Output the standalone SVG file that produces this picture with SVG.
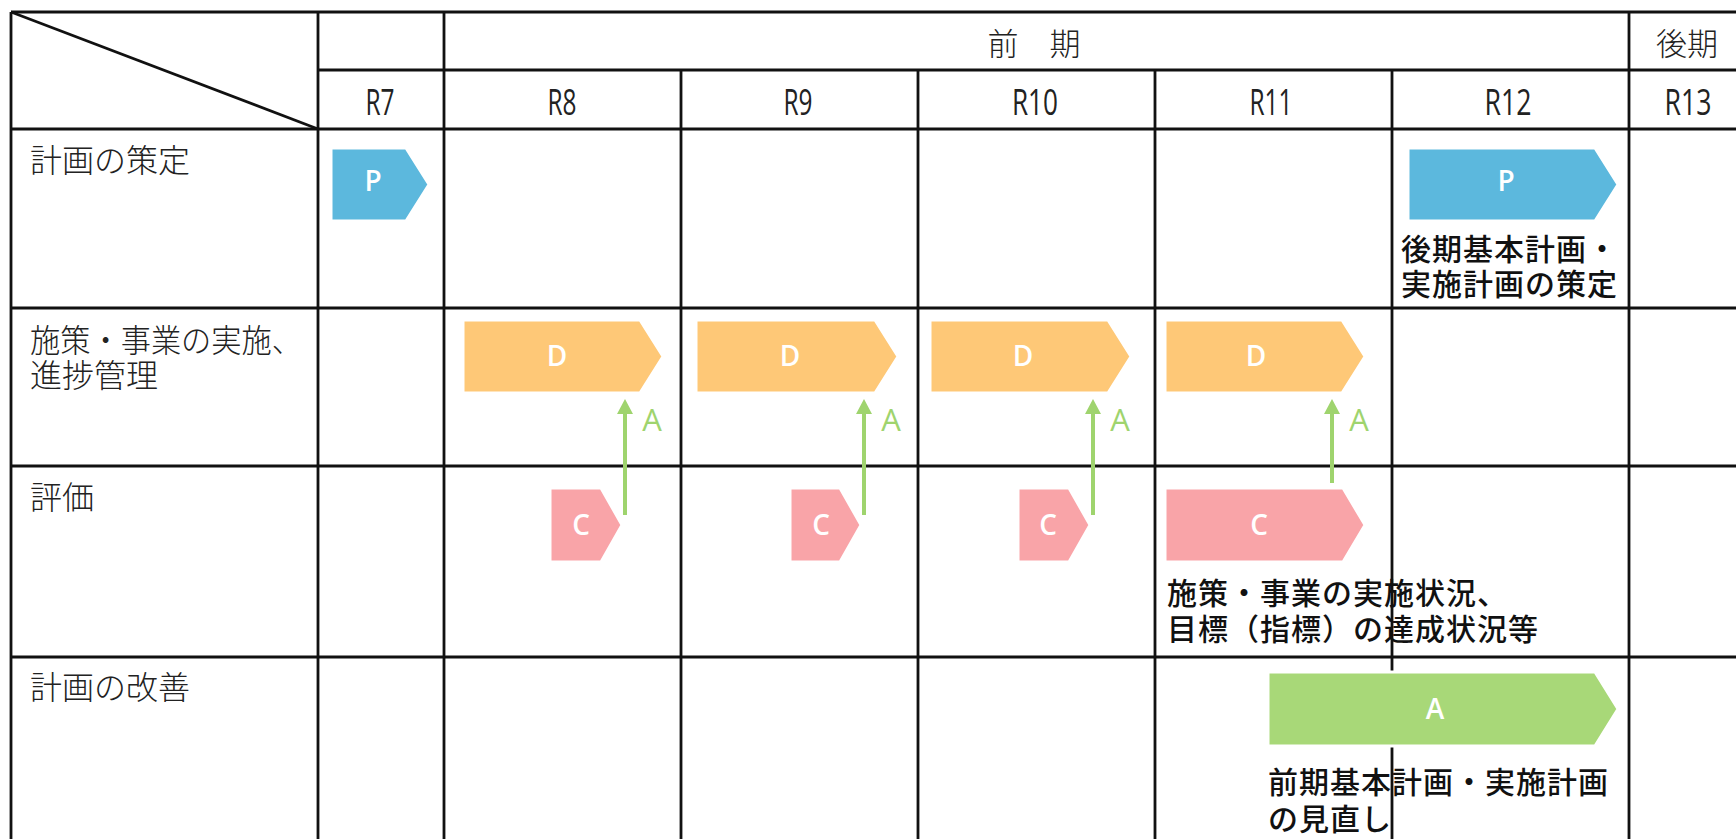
<svg xmlns="http://www.w3.org/2000/svg" width="1736" height="839" viewBox="0 0 1736 839">
<defs>
<style>
.grid line{stroke:#111;stroke-width:2.8;fill:none}
.hdr{font-family:"Open Sans","Liberation Sans",Arial,sans-serif;font-size:36px;font-weight:400;fill:#222;text-anchor:middle}
.hdrj{font-family:"Noto Sans CJK JP",sans-serif;font-size:31px;font-weight:300;fill:#222;text-anchor:middle}
.rowlbl{font-family:"Noto Sans CJK JP",sans-serif;font-size:32px;font-weight:300;fill:#222}
.note{font-family:"Noto Sans CJK JP",sans-serif;font-size:30px;font-weight:500;fill:#111;letter-spacing:1px}
.shp{stroke:#fff;stroke-width:3}
.p{fill:#5cb8dd}
.d{fill:#fec877}
.c{fill:#f9a4a8}
.a{fill:#a8d878}
.ltr{font-family:"Open Sans","Liberation Sans",sans-serif;font-size:28px;font-weight:600;fill:#fff;text-anchor:middle}
.alb{font-family:"Open Sans","Liberation Sans",Arial,sans-serif;font-size:31px;fill:#9fd46e;text-anchor:middle}
.arr{stroke:#9fd46e;stroke-width:4;fill:none}
.head{fill:#9fd46e}
</style>
</defs>
<rect width="1736" height="839" fill="#fff"/>

<g id="notes">
<text id="note-p2" class="note" x="1401" y="260">後期基本計画・<tspan x="1401" dy="35">実施計画の策定</tspan></text>
<text id="note-c4" class="note" x="1167" y="604">施策・事業の実施状況、<tspan x="1167" dy="36">目標（指標）の達成状況等</tspan></text>
<text id="note-a" class="note" x="1268" y="793">前期基本計画・実施計画<tspan x="1268" dy="37">の見直し</tspan></text>
</g>

<g id="grid" class="grid">
<line x1="11" y1="12" x2="1736" y2="12"/>
<line x1="318" y1="70" x2="1736" y2="70"/>
<line x1="11" y1="129" x2="1736" y2="129"/>
<line x1="11" y1="308" x2="1736" y2="308"/>
<line x1="11" y1="466" x2="1736" y2="466"/>
<line x1="11" y1="657" x2="1736" y2="657"/>
<line x1="11" y1="12" x2="11" y2="839"/>
<line x1="318" y1="12" x2="318" y2="839"/>
<line x1="444" y1="12" x2="444" y2="839"/>
<line x1="681" y1="70" x2="681" y2="839"/>
<line x1="918" y1="70" x2="918" y2="839"/>
<line x1="1155" y1="70" x2="1155" y2="839"/>
<line x1="1392" y1="70" x2="1392" y2="839"/>
<line x1="1629" y1="12" x2="1629" y2="839"/>
<line x1="11" y1="12" x2="318" y2="129"/>
</g>

<g id="headers">
<text class="hdrj" x="1034" y="55">前　期</text>
<text class="hdrj" x="1687" y="55">後期</text>
<text class="hdr" x="380" y="115" textLength="29" lengthAdjust="spacingAndGlyphs">R7</text>
<text class="hdr" x="562" y="115" textLength="29" lengthAdjust="spacingAndGlyphs">R8</text>
<text class="hdr" x="798" y="115" textLength="29" lengthAdjust="spacingAndGlyphs">R9</text>
<text class="hdr" x="1035" y="115" textLength="46" lengthAdjust="spacingAndGlyphs">R10</text>
<text class="hdr" x="1271" y="115" textLength="43" lengthAdjust="spacingAndGlyphs">R11</text>
<text class="hdr" x="1508" y="115" textLength="47" lengthAdjust="spacingAndGlyphs">R12</text>
<text class="hdr" x="1688" y="115" textLength="47" lengthAdjust="spacingAndGlyphs">R13</text>
</g>

<g id="row-labels">
<text class="rowlbl" x="30" y="172">計画の策定</text>
<text class="rowlbl" x="30" y="352"><tspan textLength="272" lengthAdjust="spacingAndGlyphs">施策・事業の実施、</tspan><tspan x="30" dy="35">進捗管理</tspan></text>
<text class="rowlbl" x="30" y="509">評価</text>
<text class="rowlbl" x="30" y="699">計画の改善</text>
</g>

<g id="connectors">
<line class="arr" x1="625" y1="515" x2="625" y2="410"/>
<polygon class="head" points="617,414 625,399 633,414"/>
<line class="arr" x1="864" y1="515" x2="864" y2="410"/>
<polygon class="head" points="856,414 864,399 872,414"/>
<line class="arr" x1="1093" y1="515" x2="1093" y2="410"/>
<polygon class="head" points="1085,414 1093,399 1101,414"/>
<line class="arr" x1="1332" y1="483" x2="1332" y2="410"/>
<polygon class="head" points="1324,414 1332,399 1340,414"/>
<text class="alb" x="652" y="431">A</text>
<text class="alb" x="891" y="431">A</text>
<text class="alb" x="1120" y="431">A</text>
<text class="alb" x="1359" y="431">A</text>
</g>

<g id="node-p1"><polygon class="shp p" points="331,148 406,148 429,184.5 406,221 331,221"/><text class="ltr" x="373" y="191">P</text></g>
<g id="node-p2"><polygon class="shp p" points="1408,148 1595,148 1618,184.5 1595,221 1408,221"/><text class="ltr" x="1506" y="191">P</text></g>
<g id="node-d1"><polygon class="shp d" points="463,320 640,320 663,356.5 640,393 463,393"/><text class="ltr" x="557" y="366">D</text></g>
<g id="node-d2"><polygon class="shp d" points="696,320 875,320 898,356.5 875,393 696,393"/><text class="ltr" x="790" y="366">D</text></g>
<g id="node-d3"><polygon class="shp d" points="930,320 1108,320 1131,356.5 1108,393 930,393"/><text class="ltr" x="1023" y="366">D</text></g>
<g id="node-d4"><polygon class="shp d" points="1165,320 1342,320 1365,356.5 1342,393 1165,393"/><text class="ltr" x="1256" y="366">D</text></g>
<g id="node-c1"><polygon class="shp c" points="550,488 601,488 622,525 601,562 550,562"/><text class="ltr" x="581" y="535">C</text></g>
<g id="node-c2"><polygon class="shp c" points="790,488 840,488 861,525 840,562 790,562"/><text class="ltr" x="821" y="535">C</text></g>
<g id="node-c3"><polygon class="shp c" points="1018,488 1069,488 1090,525 1069,562 1018,562"/><text class="ltr" x="1048" y="535">C</text></g>
<g id="node-c4"><polygon class="shp c" points="1165,488 1343,488 1365,525 1343,562 1165,562"/><text class="ltr" x="1259" y="535">C</text></g>
<g id="node-a"><polygon class="shp a" points="1268,672 1595,672 1618,709 1595,746 1268,746"/><text class="ltr" x="1435" y="719">A</text></g>
</svg>
